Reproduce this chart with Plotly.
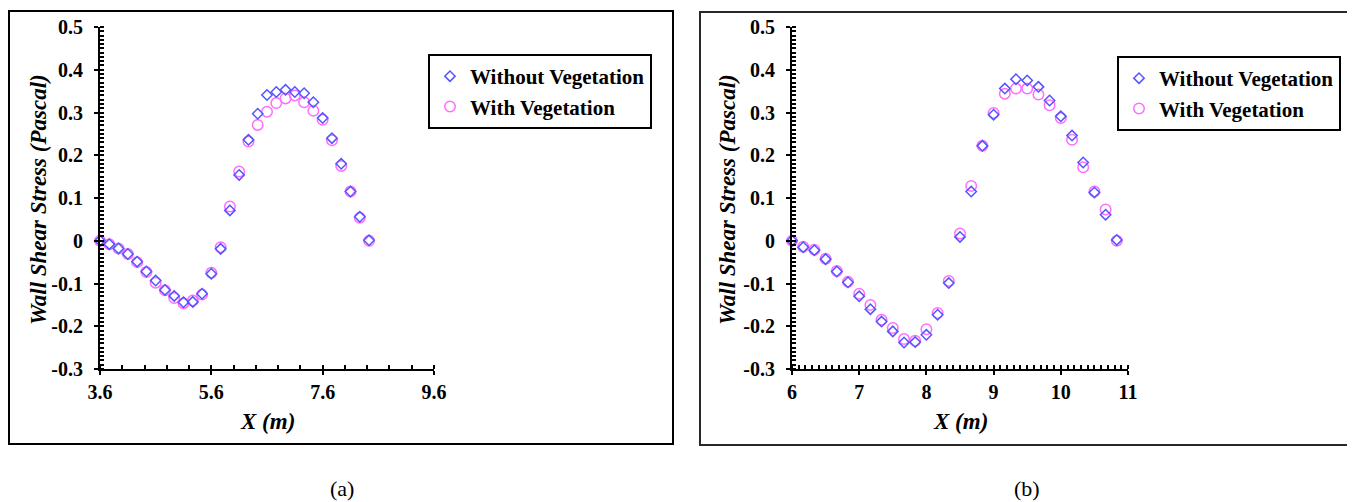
import plotly.graph_objects as go

# The page body has an 8px margin, so the figure is sized and positioned to compensate.
OFF = 8
W, H = 1355 - OFF, 502 - OFF

# ---------------- data ----------------
xa = [3.6, 3.767, 3.933, 4.1, 4.267, 4.433, 4.6, 4.767, 4.933, 5.1,
      5.267, 5.433, 5.6, 5.767, 5.933, 6.1, 6.267, 6.433, 6.6, 6.767,
      6.933, 7.1, 7.267, 7.433, 7.6, 7.767, 7.933, 8.1, 8.267, 8.433]
a_without = [0.0, -0.008, -0.018, -0.031, -0.049, -0.072, -0.093, -0.115, -0.129, -0.144,
             -0.143, -0.124, -0.077, -0.019, 0.071, 0.154, 0.236, 0.297, 0.341, 0.348,
             0.353, 0.348, 0.345, 0.324, 0.287, 0.240, 0.180, 0.115, 0.056, 0.001]
a_with = [0.0, -0.008, -0.018, -0.031, -0.050, -0.073, -0.098, -0.116, -0.134, -0.146,
          -0.140, -0.126, -0.075, -0.015, 0.080, 0.162, 0.232, 0.271, 0.302, 0.322,
          0.333, 0.340, 0.324, 0.304, 0.283, 0.235, 0.175, 0.115, 0.054, 0.0]

xb = [6.0, 6.167, 6.333, 6.5, 6.667, 6.833, 7.0, 7.167, 7.333, 7.5,
      7.667, 7.833, 8.0, 8.167, 8.333, 8.5, 8.667, 8.833, 9.0, 9.167,
      9.333, 9.5, 9.667, 9.833, 10.0, 10.167, 10.333, 10.5, 10.667, 10.833]
b_without = [0.0, -0.015, -0.022, -0.043, -0.072, -0.097, -0.130, -0.160, -0.189, -0.212,
             -0.238, -0.237, -0.220, -0.173, -0.099, 0.009, 0.115, 0.222, 0.295, 0.356,
             0.378, 0.375, 0.360, 0.328, 0.291, 0.246, 0.183, 0.113, 0.061, 0.002]
b_with = [0.0, -0.014, -0.021, -0.042, -0.071, -0.096, -0.124, -0.150, -0.185, -0.204,
          -0.230, -0.234, -0.207, -0.169, -0.094, 0.017, 0.128, 0.222, 0.299, 0.344,
          0.356, 0.356, 0.342, 0.317, 0.287, 0.236, 0.172, 0.115, 0.073, 0.0]

y_ticks = [-0.3, -0.2, -0.1, 0.0, 0.1, 0.2, 0.3, 0.4, 0.5]
y_ticklabels = ["-0.3", "-0.2", "-0.1", "0", "0.1", "0.2", "0.3", "0.4", "0.5"]
xa_ticks = [3.6, 5.6, 7.6, 9.6]
xa_ticklabels = ["3.6", "5.6", "7.6", "9.6"]
xb_ticks = [6, 7, 8, 9, 10, 11]
xb_ticklabels = ["6", "7", "8", "9", "10", "11"]

series_names = ["Without Vegetation", "With Vegetation"]
y_title = "Wall Shear Stress (Pascal)"
x_title = "X (m)"
captions = ["(a)", "(b)"]

# ---------------- styling ----------------
SERIF = "Liberation Serif"
BLUE = "rgb(85,85,255)"
PINK = "rgb(255,110,255)"


def px(x):
    return (x - OFF) / W


def py(y):
    return 1 - (y - OFF) / H


fig = go.Figure()

# panel (a)
fig.add_trace(go.Scatter(x=xa, y=a_with, mode="markers", name=series_names[1],
                         marker=dict(symbol="circle-open", size=10.5, color=PINK, line=dict(width=1.5)),
                         xaxis="x", yaxis="y", legend="legend", legendrank=2, cliponaxis=False))
fig.add_trace(go.Scatter(x=xa, y=a_without, mode="markers", name=series_names[0],
                         marker=dict(symbol="diamond-open", size=8, color=BLUE, line=dict(width=1.5)),
                         xaxis="x", yaxis="y", legend="legend", legendrank=1, cliponaxis=False))
# panel (b)
fig.add_trace(go.Scatter(x=xb, y=b_with, mode="markers", name=series_names[1],
                         marker=dict(symbol="circle-open", size=10.5, color=PINK, line=dict(width=1.5)),
                         xaxis="x2", yaxis="y2", legend="legend2", legendrank=2, cliponaxis=False))
fig.add_trace(go.Scatter(x=xb, y=b_without, mode="markers", name=series_names[0],
                         marker=dict(symbol="diamond-open", size=8, color=BLUE, line=dict(width=1.5)),
                         xaxis="x2", yaxis="y2", legend="legend2", legendrank=1, cliponaxis=False))

tickfont = dict(family=SERIF, size=20, color="black", weight="bold")

ydom = [py(369), py(27)]
xa_dom = [px(100), px(434)]
xb_dom = [px(792), px(1128)]


def xaxis_cfg(dom, rng, tv, tt, minor_dtick, anchor):
    return dict(domain=dom, range=rng, tickvals=tv, ticktext=tt, anchor=anchor, automargin=False,
                showline=True, linewidth=2, linecolor="black", showgrid=False, zeroline=False,
                ticks="outside", ticklen=4, tickwidth=2, tickcolor="black",
                tickfont=tickfont, ticklabelstandoff=0,
                minor=dict(dtick=minor_dtick, tick0=rng[0], ticks="inside", ticklen=4,
                           tickwidth=1.5, tickcolor="black", showgrid=False))


def yaxis_cfg(anchor):
    return dict(domain=ydom, range=[-0.3, 0.5], tickvals=y_ticks, ticktext=y_ticklabels, anchor=anchor,
                automargin=False,
                showline=True, linewidth=2, linecolor="black", showgrid=False, zeroline=False,
                ticks="outside", ticklen=4, tickwidth=2, tickcolor="black",
                tickfont=tickfont, ticklabelstandoff=7,
                minor=dict(dtick=0.01, tick0=-0.3, ticks="inside", ticklen=4,
                           tickwidth=1.5, tickcolor="black", showgrid=False))


def overlay_x(dom, rng, tv, over, anchor):
    return dict(domain=dom, range=rng, tickvals=tv, overlaying=over, anchor=anchor, automargin=False,
                showline=False, showgrid=False, zeroline=False, showticklabels=False,
                ticks="inside", ticklen=4, tickwidth=2, tickcolor="black")


def overlay_y(over, anchor):
    return dict(domain=ydom, range=[-0.3, 0.5], tickvals=y_ticks, overlaying=over, anchor=anchor,
                automargin=False,
                showline=False, showgrid=False, zeroline=False, showticklabels=False,
                ticks="inside", ticklen=4, tickwidth=2, tickcolor="black")


legend_common = dict(bgcolor="white", bordercolor="black", borderwidth=2,
                     font=dict(family=SERIF, size=21, color="black", weight="bold"),
                     xanchor="left", yanchor="top", traceorder="normal",
                     itemwidth=30, tracegroupgap=0)

fig.update_layout(
    width=W, height=H, margin=dict(l=0, r=0, t=0, b=0, pad=0, autoexpand=False),
    paper_bgcolor="white", plot_bgcolor="rgba(0,0,0,0)",
    showlegend=True,
    xaxis=xaxis_cfg(xa_dom, [3.6, 9.6], xa_ticks, xa_ticklabels, 0.4, "y"),
    yaxis=yaxis_cfg("x"),
    xaxis2=xaxis_cfg(xb_dom, [6, 11], xb_ticks, xb_ticklabels, 0.1, "y2"),
    yaxis2=yaxis_cfg("x2"),
    xaxis3=overlay_x(xa_dom, [3.6, 9.6], xa_ticks, "x", "y"),
    yaxis3=overlay_y("y", "x"),
    xaxis4=overlay_x(xb_dom, [6, 11], xb_ticks, "x2", "y2"),
    yaxis4=overlay_y("y2", "x2"),
    legend=dict(x=px(428), y=py(54), **legend_common),
    legend2=dict(x=px(1117), y=py(56), **legend_common),
)

titlefont = dict(family=SERIF, size=23, color="black", weight="bold", style="italic")
annotations = [
    dict(text=x_title, x=px(267), y=py(421), xref="paper", yref="paper", showarrow=False,
         font=titlefont, xanchor="center", yanchor="middle"),
    dict(text=x_title, x=px(960), y=py(421), xref="paper", yref="paper", showarrow=False,
         font=titlefont, xanchor="center", yanchor="middle"),
    dict(text=y_title, x=px(38), y=py(200), xref="paper", yref="paper", showarrow=False,
         font=titlefont, textangle=-90, xanchor="center", yanchor="middle"),
    dict(text=y_title, x=px(727), y=py(200), xref="paper", yref="paper", showarrow=False,
         font=titlefont, textangle=-90, xanchor="center", yanchor="middle"),
    dict(text=captions[0], x=px(342), y=py(488), xref="paper", yref="paper", showarrow=False,
         font=dict(family=SERIF, size=22, color="black"), xanchor="center", yanchor="middle"),
    dict(text=captions[1], x=px(1027), y=py(488), xref="paper", yref="paper", showarrow=False,
         font=dict(family=SERIF, size=22, color="black"), xanchor="center", yanchor="middle"),
]
fig.update_layout(annotations=annotations)

shapes = [
    dict(type="rect", xref="paper", yref="paper", x0=px(9), x1=px(673), y0=py(444), y1=py(11),
         line=dict(color="black", width=2), layer="below"),
    dict(type="rect", xref="paper", yref="paper", x0=px(700), x1=px(1370), y0=py(445), y1=py(12),
         line=dict(color="rgb(40,40,40)", width=2), layer="below"),
]
fig.update_layout(shapes=shapes)

fig.write_html("out.html")
